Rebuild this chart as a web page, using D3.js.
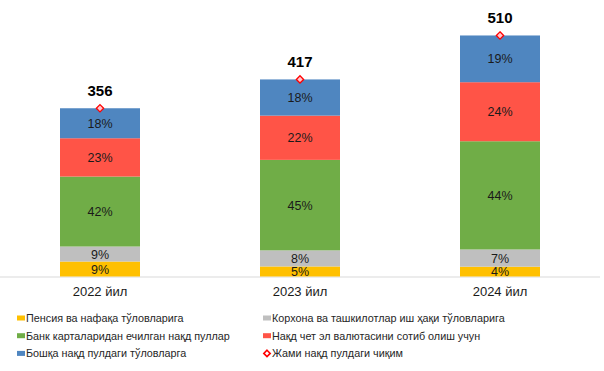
<!DOCTYPE html>
<html>
<head>
<meta charset="utf-8">
<script src="https://cdn.jsdelivr.net/npm/d3@7"></script>
<style>
  body { margin: 0; background: #fff; }
  svg text { font-family: "Liberation Sans", Arial, sans-serif; }
</style>
</head>
<body>
<svg id="chart" width="604" height="371"></svg>
<script>
/* Data */
var years = ["2022 йил", "2023 йил", "2024 йил"];
var totals = [356, 417, 510];
var pension = [9, 5, 4];
var salary = [9, 8, 7];
var cards = [42, 45, 44];
var currency = [23, 22, 24];
var other = [18, 18, 19];

var seriesNames = [
  "Пенсия ва нафақа тўловларига",
  "Корхона ва ташкилотлар иш ҳақи тўловларига",
  "Банк карталаридан ечилган нақд пуллар",
  "Нақд чет эл валютасини сотиб олиш учун",
  "Бошқа нақд пулдаги тўловларга"
];
var totalName = "Жами нақд пулдаги чиқим";
var colors = ["#FFC000", "#BFBFBF", "#70AD47", "#FF5447", "#4F86C0"];

var shares = [pension, salary, cards, currency, other];

var svg = d3.select("svg#chart");

/* Scales */
var x = d3.scaleBand()
  .domain(years)
  .range([0, 600])
  .paddingInner(0.6)
  .paddingOuter(0.3);

var y = d3.scaleLinear()
  .domain([0, 540])
  .range([276.5, 21.3]);

// stacked rows: each segment is its pct share of the year's total
var rows = years.map(function(yr, i) {
  var sum = d3.sum(shares, function(s) { return s[i]; });
  var row = { year: yr, total: totals[i] };
  shares.forEach(function(s, k) {
    row["s" + k] = totals[i] * s[i] / sum;
    row["p" + k] = s[i];
  });
  return row;
});

var stack = d3.stack().keys(seriesNames.map(function(d, k) { return "s" + k; }));
var stacked = stack(rows);

/* Axis line */
svg.append("line")
  .attr("x1", 0).attr("x2", 600)
  .attr("y1", y(0) + 0.5).attr("y2", y(0) + 0.5)
  .attr("stroke", "#D9D9D9")
  .attr("stroke-width", 1);

/* Bars */
var groups = svg.selectAll("g.series")
  .data(stacked)
  .enter()
  .append("g")
  .attr("class", "series")
  .attr("fill", function(d, k) { return colors[k]; });

groups.selectAll("rect")
  .data(function(d) { return d; })
  .enter()
  .append("rect")
  .attr("x", function(d) { return x(d.data.year); })
  .attr("width", x.bandwidth())
  .attr("y", function(d) { return y(d[1]); })
  .attr("height", function(d) { return y(d[0]) - y(d[1]); });

groups.each(function(ser, k) {
  d3.select(this).selectAll("text")
    .data(ser)
    .enter()
    .append("text")
    .attr("x", function(d) { return x(d.data.year) + x.bandwidth() / 2; })
    .attr("y", function(d) { return (y(d[0]) + y(d[1])) / 2; })
    .attr("dy", "0.36em")
    .attr("text-anchor", "middle")
    .attr("font-size", 12.5)
    .attr("fill", "#1a1a1a")
    .text(function(d) { return d.data["p" + k] + "%"; });
});

/* Totals */
var diamond = d3.symbol().type(d3.symbolDiamond2).size(34);

svg.selectAll("path.total")
  .data(rows)
  .enter()
  .append("path")
  .attr("class", "total")
  .attr("d", diamond)
  .attr("transform", function(d) {
    return "translate(" + (x(d.year) + x.bandwidth() / 2) + "," + y(d.total) + ")";
  })
  .attr("fill", "#FFC7CE")
  .attr("stroke", "#FF0000")
  .attr("stroke-width", 1.3);

svg.selectAll("text.total")
  .data(rows)
  .enter()
  .append("text")
  .attr("class", "total")
  .attr("x", function(d) { return x(d.year) + x.bandwidth() / 2; })
  .attr("y", function(d) { return y(d.total) - 12; })
  .attr("text-anchor", "middle")
  .attr("font-size", 15)
  .attr("font-weight", "bold")
  .attr("fill", "#000")
  .text(function(d) { return d.total; });

/* Category labels */
svg.selectAll("text.cat")
  .data(years)
  .enter()
  .append("text")
  .attr("class", "cat")
  .attr("x", function(d) { return x(d) + x.bandwidth() / 2; })
  .attr("y", 296)
  .attr("text-anchor", "middle")
  .attr("font-size", 13)
  .attr("fill", "#1a1a1a")
  .text(function(d) { return d; });

/* Legend */
var legendItems = seriesNames.map(function(n, k) { return { name: n, color: colors[k], type: "rect" }; });
legendItems.push({ name: totalName, color: "#FF0000", type: "diamond" });

var legend = svg.selectAll("g.legend")
  .data(legendItems)
  .enter()
  .append("g")
  .attr("class", "legend")
  .attr("transform", function(d, i) {
    var col = i % 2, row = Math.floor(i / 2);
    return "translate(" + (col === 0 ? 17 : 263) + "," + (318 + row * 17.7) + ")";
  });

legend.each(function(d) {
  var g = d3.select(this);
  if (d.type === "rect") {
    g.append("rect")
      .attr("x", 0).attr("y", -2.5)
      .attr("width", 8).attr("height", 5)
      .attr("fill", d.color);
  } else {
    g.append("path")
      .attr("d", d3.symbol().type(d3.symbolDiamond2).size(26))
      .attr("transform", "translate(4,0)")
      .attr("fill", "#fff")
      .attr("stroke", d.color)
      .attr("stroke-width", 1.6);
  }
  g.append("text")
    .attr("x", 9)
    .attr("y", 0)
    .attr("dy", "0.36em")
    .attr("font-size", 10.8)
    .attr("fill", "#262626")
    .text(d.name);
});
</script>
</body>
</html>
